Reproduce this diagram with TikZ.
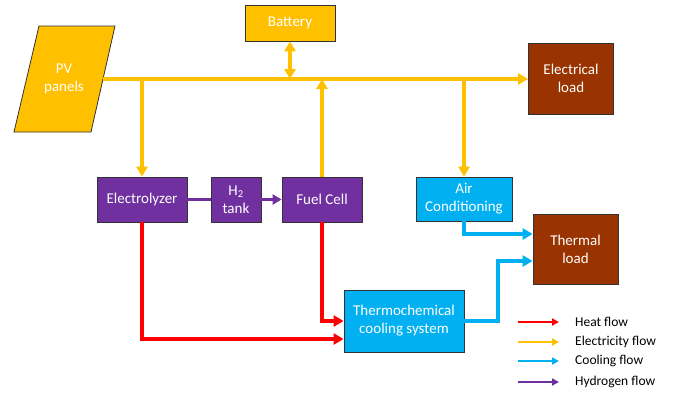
\documentclass[tikz,border=0pt]{standalone}
\usepackage{fontspec}
\setmainfont{Carlito}
\usetikzlibrary{arrows.meta}

\definecolor{elecyellow}{HTML}{FFC000}
\definecolor{hydpurple}{HTML}{7030A0}
\definecolor{coolblue}{HTML}{00B0F0}
\definecolor{loadbrown}{HTML}{993300}
\definecolor{heatred}{HTML}{FF0000}

\tikzset{
    box/.style={draw=black!80, line width=0.8pt, text=white, inner sep=0pt,
        align=center, font=\fontsize{15}{18}\selectfont},
    bigtip/.style={-{Triangle[length=10pt,width=11pt]}},
    elec/.style={draw=elecyellow, line width=3.5pt},
    heat/.style={draw=heatred, line width=4pt},
    cool/.style={draw=coolblue, line width=4pt},
    hyd/.style={draw=hydpurple, line width=3.5pt},
    legline/.style={line width=2pt, -{Triangle[length=7pt,width=7pt]}},
    legtext/.style={anchor=west, inner sep=0pt, font=\fontsize{13.5}{16}\selectfont},
}

\begin{document}
\begin{tikzpicture}[x=1pt, y=-1pt]
    \useasboundingbox (0,0) rectangle (683,399);

    % sources and storage
    \draw [draw=black!80, line width=0.8pt, fill=elecyellow]
        (39,26) -- (115,26) -- (91,132) -- (14,132) -- cycle
        ;
    \node [box, draw=none] (pv) at (64,79) {PV\\panels};
    \coordinate (pvout) at (103,79);
    \node [box, fill=elecyellow, minimum width=90pt, minimum height=36pt]
        (bat) at (290,23) {Battery};

    % hydrogen chain
    \node [box, fill=hydpurple, minimum width=90pt, minimum height=45pt]
        (elz) at (142,199.5) {Electrolyzer};
    \node [box, fill=hydpurple, minimum width=50pt, minimum height=45pt]
        (h2) at (236,199.5) {H\textsubscript{2}\\tank};
    \node [box, fill=hydpurple, minimum width=80pt, minimum height=45pt]
        (fc) at (322,199.5) {Fuel Cell};

    % cooling and loads
    \node [box, fill=coolblue, minimum width=96pt, minimum height=44pt]
        (ac) at (464,199) {Air\\Conditioning};
    \node [box, fill=coolblue, minimum width=120pt, minimum height=62pt]
        (tcs) at (404,321) {Thermochemical\\cooling system};
    \node [box, fill=loadbrown, minimum width=85pt, minimum height=71pt]
        (eload) at (571,78.5) {Electrical\\load};
    \node [box, fill=loadbrown, minimum width=85pt, minimum height=70pt]
        (tl) at (575.5,249) {Thermal\\load};

    % electricity
    \draw [elec, bigtip]
        (pvout) -- (eload.west |- pvout)
        ;
    \draw [elec, {Triangle[length=10pt,width=11pt]}-{Triangle[length=10pt,width=11pt]}]
        (bat.south) -- (bat.south |- pvout)
        ;
    \draw [elec, bigtip]
        (elz.north |- pvout) -- (elz.north)
        ;
    \draw [elec, bigtip]
        (fc.north) -- (fc.north |- pvout)
        ;
    \draw [elec, bigtip]
        (ac.north |- pvout) -- (ac.north)
        ;

    % hydrogen
    \draw [hyd]
        (elz.east) -- (h2.west)
        ;
    \draw [hyd, -{Triangle[length=9pt,width=10pt]}]
        (h2.east) -- (fc.west)
        ;

    % heat
    \draw [heat, bigtip]
        (fc.south) |- (tcs.west)
        ;
    \draw [heat, bigtip]
        (elz.south) |- ([yshift=-18pt]tcs.west)
        ;

    % cooling
    \draw [cool, bigtip]
        (ac.south) |- ([yshift=15pt]tl.west)
        ;
    \draw [cool, bigtip]
        (tcs.east) -- ++(34,0) |- ([yshift=-12pt]tl.west)
        ;

    % legend
    \node [legtext] (lheat) at (575,322) {Heat flow};
    \node [legtext] (lelec) at (575,342) {Electricity flow};
    \node [legtext] (lcool) at (575,361) {Cooling flow};
    \node [legtext] (lhyd) at (575,382) {Hydrogen flow};

    \draw [legline, heatred]
        ([xshift=-57pt]lheat.west) -- ([xshift=-16pt]lheat.west)
        ;
    \draw [legline, elecyellow]
        ([xshift=-57pt]lelec.west) -- ([xshift=-16pt]lelec.west)
        ;
    \draw [legline, coolblue]
        ([xshift=-57pt]lcool.west) -- ([xshift=-16pt]lcool.west)
        ;
    \draw [legline, hydpurple]
        ([xshift=-57pt]lhyd.west) -- ([xshift=-16pt]lhyd.west)
        ;
\end{tikzpicture}
\end{document}
